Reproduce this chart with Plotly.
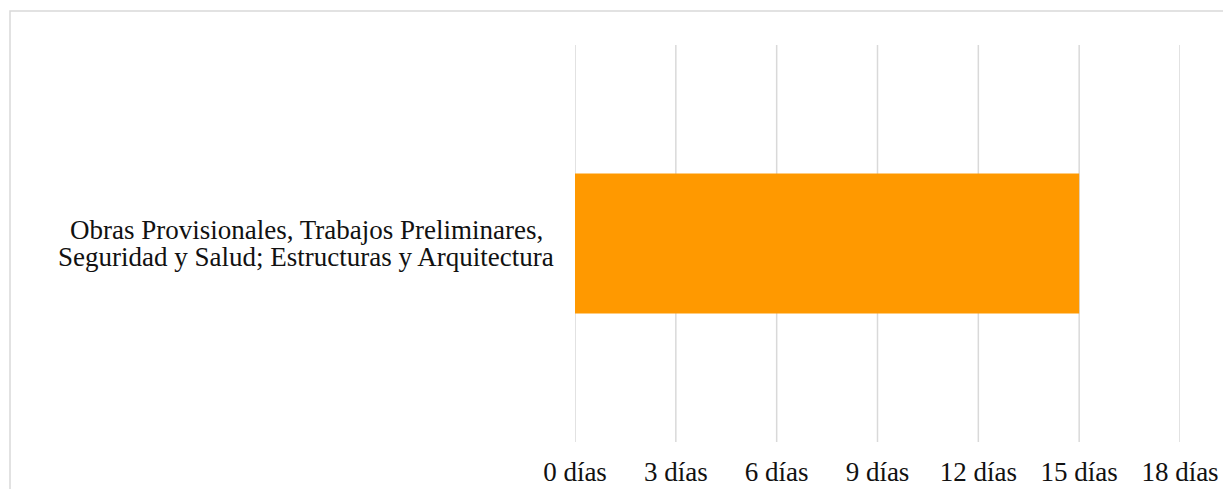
import plotly.graph_objects as go

category_lines = ["Obras Provisionales, Trabajos Preliminares,",
                  "Seguridad y Salud; Estructuras y Arquitectura"]
values = [15]
tick_values = [0, 3, 6, 9, 12, 15, 18]
tick_labels = ["0 días", "3 días", "6 días", "9 días", "12 días", "15 días", "18 días"]

W, H = 1223, 489
L, R, T, B = 575, 43, 45, 47
pw, ph = W - L - R, H - T - B
FONT = "Liberation Serif, Times New Roman, serif"
FS = 27

fig = go.Figure()
fig.add_trace(go.Bar(
    x=values, y=[0], orientation="h",
    marker=dict(color="#FF9900", line=dict(width=0)),
    width=0.353, hoverinfo="skip"
))

annotations = []
for i, line in enumerate(category_lines):
    annotations.append(dict(
        text=line, xref="paper", yref="y", x=(306 - L) / pw, y=0,
        xanchor="center", yanchor="middle", align="center", showarrow=False,
        yshift=14 - 27 * i,
        font=dict(family=FONT, size=FS, color="#111111"),
    ))

shapes = [dict(
    type="rect", xref="paper", yref="paper",
    x0=(10 - L) / pw, x1=(W + 20 - L) / pw,
    y0=-(H + 20 - (T + ph)) / ph, y1=1 + (T - 11) / ph,
    line=dict(color="#d9d9d9", width=1.5), fillcolor="rgba(0,0,0,0)", layer="below",
)]
for tv in tick_values:
    shapes.append(dict(
        type="line", xref="x", yref="paper", x0=tv, x1=tv, y0=0, y1=1,
        line=dict(color="#d9d9d9", width=1.5), layer="below",
    ))

fig.update_layout(
    width=W, height=H,
    margin=dict(l=L, r=R, t=T, b=B, autoexpand=False),
    paper_bgcolor="white", plot_bgcolor="rgba(0,0,0,0)",
    font=dict(family=FONT, size=FS, color="#111111"),
    showlegend=False,
    xaxis=dict(
        range=[0, 18], tickvals=tick_values, ticktext=tick_labels,
        showgrid=False, zeroline=False, showline=False, ticks="",
        ticklabelstandoff=11, fixedrange=True, automargin=False,
    ),
    yaxis=dict(
        range=[-0.5, 0.5], showticklabels=False, showgrid=False,
        zeroline=False, showline=False, fixedrange=True, automargin=False,
    ),
    annotations=annotations,
    shapes=shapes,
)

fig.write_html("out.html")
